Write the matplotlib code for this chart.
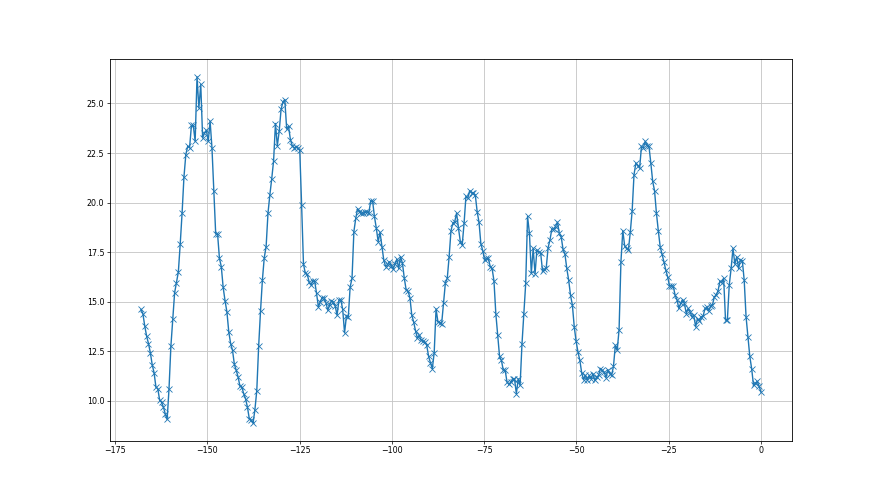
import numpy as np
import matplotlib
matplotlib.use("Agg")
import matplotlib.pyplot as plt

# values, left to right (x runs from -168 to 0)
seg1 = [14.61, 14.40, 13.78, 13.27, 12.89, 12.43, 11.82, 11.42, 10.69, 10.61,
        10.02, 9.93, 9.68, 9.34, 9.06, 10.61, 12.75, 14.12, 15.45, 15.96,
        16.50, 17.91, 19.47, 21.29, 22.42, 22.84, 22.76, 23.89, 23.89, 23.09,
        26.35, 24.78, 25.96, 23.26, 23.51, 23.65, 23.09, 24.11, 22.76, 20.60,
        18.42, 18.42, 17.19, 16.77, 15.72, 15.05, 14.49, 13.48, 12.89, 12.55,
        11.84, 11.54, 11.20, 10.73, 10.69, 10.36, 10.10, 9.68, 9.09]
seg2 = [9.04, 8.87, 9.55, 10.52, 12.75, 14.52, 16.09, 17.22, 17.78, 19.47,
        20.39, 21.20, 22.11, 23.99, 22.87, 23.60, 24.70, 25.08, 25.20, 23.73,
        23.85, 23.18, 22.87, 22.76, 22.81, 22.76, 22.67, 19.89, 16.90, 16.43,
        16.38, 16.01, 15.84, 16.06, 16.04, 15.42, 14.74, 14.99, 15.21, 15.21,
        14.96, 14.57, 14.83, 15.05, 14.99, 14.78, 14.32, 15.08, 15.11, 14.61,
        13.43, 14.27, 14.24, 15.75, 16.18, 18.54, 19.21, 19.69, 19.55]
seg3 = [19.46, 19.47, 19.52, 19.52, 19.47, 20.09, 20.09, 19.30, 18.71, 18.03,
        18.50, 17.78, 17.10, 16.77, 16.87, 17.02, 16.82, 16.65, 16.90, 17.14,
        16.68, 17.27, 16.94, 16.18, 15.59, 15.53, 15.21, 14.32, 13.98, 13.53,
        13.17, 13.31, 13.05, 13.00, 12.97, 12.80, 12.24, 11.92, 11.62, 12.43,
        14.64, 13.98, 13.95, 13.90, 14.91, 15.96, 16.18, 17.27, 18.59, 18.96,
        19.04, 19.47, 18.71, 18.03, 17.86, 18.96, 20.31, 20.23, 20.60]
seg4 = [20.48, 20.48, 20.39, 19.55, 19.01, 17.91, 17.58, 17.10, 17.19, 17.19,
        16.77, 16.68, 16.06, 14.40, 13.31, 12.24, 12.04, 11.54, 11.54, 10.95,
        10.83, 10.95, 11.11, 11.11, 10.36, 11.11, 10.78, 12.85, 14.40, 15.92,
        19.30, 18.45, 16.43, 17.69, 16.40, 17.61, 17.49, 17.47, 16.56, 16.63,
        16.72, 17.73, 18.12, 18.67, 18.67, 18.79, 19.01, 18.45, 18.28, 17.64,
        17.41, 16.68, 16.09, 15.33, 14.83, 13.73, 13.00, 12.46, 12.04]
seg5 = [11.40, 11.06, 11.28, 11.03, 11.28, 11.11, 11.37, 11.03, 11.20, 11.28,
        11.62, 11.54, 11.45, 11.17, 11.57, 11.37, 11.28, 11.74, 12.80, 12.55,
        13.59, 17.02, 18.59, 17.81, 17.69, 17.61, 18.50, 19.58, 21.41, 22.00,
        21.86, 21.74, 22.84, 22.76, 23.09, 22.87, 22.84, 22.00, 21.07, 20.60,
        19.47, 18.59, 17.78, 17.41, 17.02, 16.60, 16.26, 15.80, 15.80, 15.79,
        15.33, 15.11, 14.66, 14.91, 15.11, 14.91, 14.40, 14.66, 14.49]
seg6 = [14.24, 14.32, 13.73, 14.15, 14.03, 14.24, 14.27, 14.66, 14.71, 14.54,
        14.78, 14.83, 15.25, 15.33, 15.55, 16.04, 15.96, 16.18, 14.07, 14.10,
        15.84, 16.68, 17.69, 16.90, 17.27, 16.68, 17.10, 17.07, 16.09, 14.24,
        13.23, 12.24, 11.62, 10.78, 10.90, 10.98, 10.73, 10.44]

y = np.array(seg1 + seg2 + seg3 + seg4 + seg5 + seg6)
x = np.linspace(-168, 0, len(y))

font = dict(family="DejaVu Sans", stretch="condensed", size=6.3)

fig = plt.figure(figsize=(8.8, 4.95), dpi=100)
ax = fig.add_subplot(1, 1, 1)
ax.plot(x, y, color="#1f77b4", linewidth=1.0, marker="x",
        markersize=3.8, markeredgewidth=0.6)
ax.grid(True, color="#c4c4c4", linewidth=0.6)
ax.set_xticks([-175, -150, -125, -100, -75, -50, -25, 0])
ax.set_yticks([10.0, 12.5, 15.0, 17.5, 20.0, 22.5, 25.0])
ax.set_yticklabels(["10.0", "12.5", "15.0", "17.5", "20.0", "22.5", "25.0"])
for lab in ax.get_xticklabels() + ax.get_yticklabels():
    lab.set_fontproperties(matplotlib.font_manager.FontProperties(**font))
ax.tick_params(length=2.2, width=0.5, pad=2)
for s in ax.spines.values():
    s.set_linewidth(0.6)

fig.savefig("out.png", dpi=100)
